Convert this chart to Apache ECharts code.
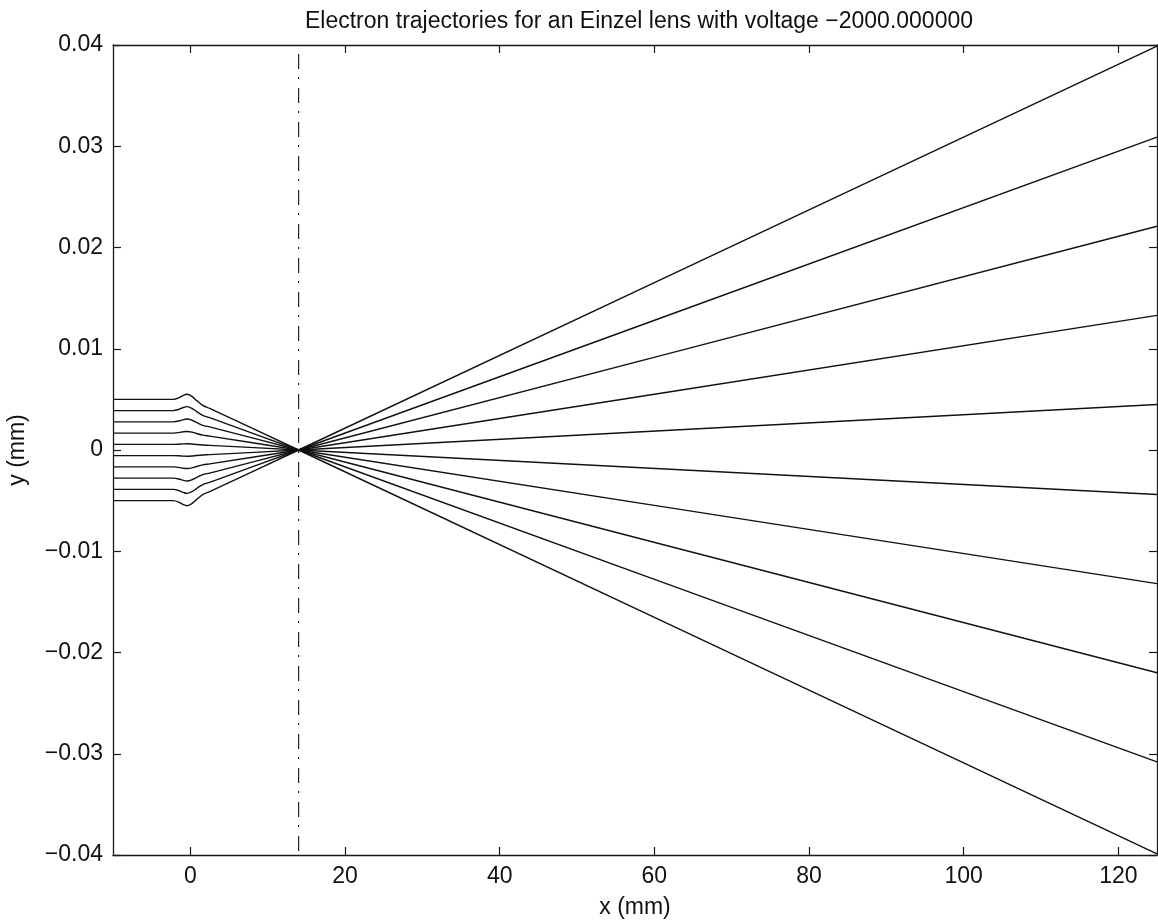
<!DOCTYPE html>
<html>
<head>
<meta charset="utf-8">
<title>Einzel lens electron trajectories</title>
<script src="https://cdn.jsdelivr.net/npm/echarts@6/dist/echarts.min.js"></script>
<style>
  html, body { margin: 0; padding: 0; background: #fff; }
  #chart { width: 1158px; height: 921px; }
</style>
</head>
<body>
<div id="chart"></div>
<script>
// Axis ticks
const xTicks = [0, 20, 40, 60, 80, 100, 120];
const yTicks = [-0.04, -0.03, -0.02, -0.01, 0, 0.01, 0.02, 0.03, 0.04];

// Sample positions along the lens axis (mm) shared by every trajectory
const pathX = [-10, -2.2, -1.5, -0.9, -0.4, 0.2, 0.8, 1.6, 2.5, 14, 125];

// Transverse position of each electron at the sample positions
const ray1 = [0.005, 0.005, 0.00515, 0.0054, 0.0055, 0.0053, 0.0049, 0.0044, 0.0041, 0, -0.0399];
const ray2 = [0.00389, 0.00389, 0.00401, 0.0042, 0.00428, 0.00412, 0.00381, 0.00342, 0.00319, 0, -0.0308];
const ray3 = [0.00278, 0.00278, 0.00286, 0.003, 0.00306, 0.00294, 0.00272, 0.00244, 0.00228, 0, -0.022];
const ray4 = [0.00167, 0.00167, 0.00172, 0.0018, 0.00183, 0.00177, 0.00163, 0.00147, 0.00137, 0, -0.0132];
const ray5 = [0.00056, 0.00056, 0.00057, 0.0006, 0.00061, 0.00059, 0.00054, 0.00049, 0.00046, 0, -0.0044];
const ray6 = [-0.00056, -0.00056, -0.00057, -0.0006, -0.00061, -0.00059, -0.00054, -0.00049, -0.00046, 0, 0.0045];
const ray7 = [-0.00167, -0.00167, -0.00172, -0.0018, -0.00183, -0.00177, -0.00163, -0.00147, -0.00137, 0, 0.0133];
const ray8 = [-0.00278, -0.00278, -0.00286, -0.003, -0.00306, -0.00294, -0.00272, -0.00244, -0.00228, 0, 0.0221];
const ray9 = [-0.00389, -0.00389, -0.00401, -0.0042, -0.00428, -0.00412, -0.00381, -0.00342, -0.00319, 0, 0.0309];
const ray10 = [-0.005, -0.005, -0.00515, -0.0054, -0.0055, -0.0053, -0.0049, -0.0044, -0.0041, 0, 0.0399];
const rays = [ray1, ray2, ray3, ray4, ray5, ray6, ray7, ray8, ray9, ray10];

// Focal plane marker
const focusX = 14;
const focusSpan = [0.04, -0.04];

const FONT = 'Liberation Sans, Arial, Helvetica, sans-serif';
const INK = '#1a1a1a';
const FS = 23;

function fmtY(v) {
  if (Math.abs(v) < 1e-12) return '0';
  return (v < 0 ? '\u2212' : '') + Math.abs(v).toFixed(2);
}

const tickStyle = { inside: true, length: 8, lineStyle: { color: INK, width: 1.2 } };
const lineStyleAxis = { show: true, onZero: false, lineStyle: { color: INK, width: 1.3 } };

const series = rays.map((ys, i) => ({
  type: 'line',
  name: 'electron ' + (i + 1),
  data: ys.map((y, k) => [pathX[k], y]),
  showSymbol: false,
  smooth: 0.3,
  lineStyle: { color: '#111', width: 1.4 },
  silent: true,
  z: 3
}));

series.push({
  type: 'line',
  name: 'focal plane',
  data: focusSpan.map(y => [focusX, y]),
  showSymbol: false,
  lineStyle: { color: '#222', width: 1.2, type: [15, 8, 2, 9], dashOffset: -9 },
  silent: true,
  z: 2
});

const chart = echarts.init(document.getElementById('chart'), null, { renderer: 'canvas' });
chart.setOption({
  animation: false,
  backgroundColor: '#fff',
  title: {
    text: 'Electron trajectories for an Einzel lens with voltage \u22122000.000000',
    left: 634,
    textAlign: 'center',
    top: 5,
    textStyle: { fontFamily: FONT, fontSize: FS, fontWeight: 'normal', color: '#111' }
  },
  grid: { left: 113, right: 1, top: 45, bottom: 66, containLabel: false, outerBoundsMode: 'none' },
  xAxis: [
    {
      type: 'value', position: 'bottom', min: -10, max: 125,
      name: 'x (mm)', nameLocation: 'middle', nameGap: 41,
      nameTextStyle: { fontFamily: FONT, fontSize: FS, color: '#111' },
      axisLine: lineStyleAxis,
      axisTick: Object.assign({ customValues: xTicks }, tickStyle),
      axisLabel: { customValues: xTicks, fontFamily: FONT, fontSize: FS, color: '#111', margin: 10 },
      splitLine: { show: false }
    },
    {
      type: 'value', position: 'top', min: -10, max: 125,
      axisLine: lineStyleAxis,
      axisTick: Object.assign({ customValues: xTicks }, tickStyle),
      axisLabel: { show: false },
      splitLine: { show: false }
    }
  ],
  yAxis: [
    {
      type: 'value', position: 'left', min: -0.04, max: 0.04, interval: 0.01,
      name: 'y (mm)', nameLocation: 'middle', nameGap: 84, nameRotate: 90,
      nameTextStyle: { fontFamily: FONT, fontSize: FS, color: '#111' },
      axisLine: lineStyleAxis,
      axisTick: Object.assign({ customValues: yTicks }, tickStyle),
      axisLabel: { customValues: yTicks, formatter: fmtY, fontFamily: FONT, fontSize: FS, color: '#111', margin: 10 },
      splitLine: { show: false }
    },
    {
      type: 'value', position: 'right', min: -0.04, max: 0.04, interval: 0.01,
      axisLine: lineStyleAxis,
      axisTick: Object.assign({ customValues: yTicks }, tickStyle),
      axisLabel: { show: false },
      splitLine: { show: false }
    }
  ],
  series: series
});
</script>
</body>
</html>
